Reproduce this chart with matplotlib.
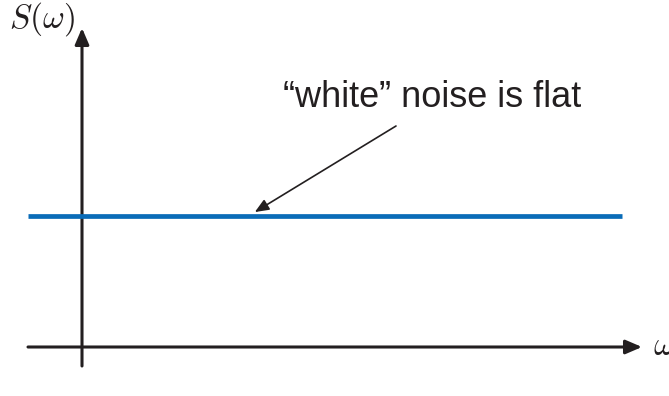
import matplotlib
matplotlib.use("Agg")
import matplotlib.pyplot as plt

plt.rcParams['mathtext.fontset'] = 'cm'

# Data: flat "white" noise power spectrum
omega = [-1.0, 10.0]
S_values = [1.0, 1.0]
annotation_text = "\u201cwhite\u201d noise is flat"
annotation_target = 3.2  # omega where arrow points

fig = plt.figure(figsize=(6.69, 3.96), dpi=100)
ax = fig.add_axes([0, 0, 1, 1])
# pixel mapping: x_px = 82 + 54*x ; y_px = 347 - 131*y
ax.set_xlim(-82 / 54, (669 - 82) / 54)
ax.set_ylim((347 - 396) / 131, 347 / 131)
ax.axis('off')

def px2x(p):
    return (p - 82) / 54

def py2y(p):
    return (347 - p) / 131

axis_color = '#231f20'
# horizontal axis
ax.annotate('', xy=(px2x(642), 0), xytext=(px2x(28), 0),
            arrowprops=dict(arrowstyle='-|>,head_length=0.7,head_width=0.3', color=axis_color,
                            lw=2.2, mutation_scale=14, shrinkA=0, shrinkB=0))
# vertical axis
ax.annotate('', xy=(0, py2y(28)), xytext=(0, py2y(366)),
            arrowprops=dict(arrowstyle='-|>,head_length=0.7,head_width=0.3', color=axis_color,
                            lw=2.2, mutation_scale=14, shrinkA=0, shrinkB=0))

# flat spectrum
ax.plot(omega, S_values, color='#0a6cb8', lw=3.4, solid_capstyle='butt', zorder=3)

# annotation
ax.annotate('', xy=(annotation_target, S_values[0] + 0.03), xytext=(px2x(396), py2y(126)),
            arrowprops=dict(arrowstyle='-|>,head_length=0.6,head_width=0.25', color='#231f20',
                            lw=1.2, mutation_scale=14, shrinkA=0, shrinkB=0))
ax.text(px2x(432), py2y(107), annotation_text, fontsize=26, family='Liberation Sans',
        color='#231f20', ha='center', va='baseline')

# labels
ax.text(px2x(9), py2y(28), r'$S(\omega)$', fontsize=24, ha='left', va='baseline', color='#231f20')
ax.text(px2x(653), py2y(355), r'$\omega$', fontsize=24, ha='left', va='baseline', color='#231f20')

fig.savefig('out.png', dpi=100)
